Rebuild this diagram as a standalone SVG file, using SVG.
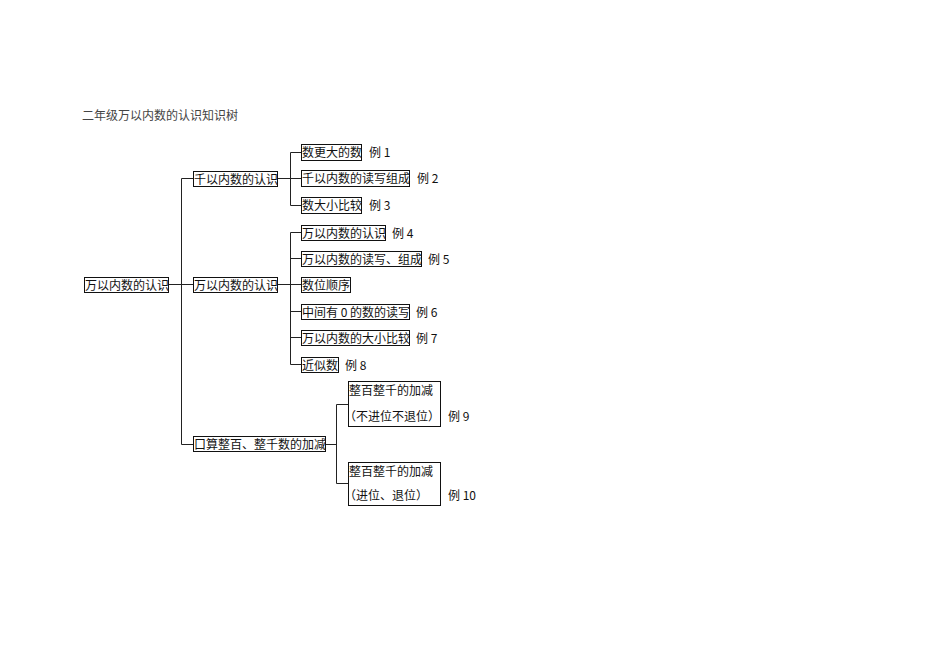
<svg xmlns="http://www.w3.org/2000/svg" width="950" height="672" viewBox="0 0 950 672">
<style>
  text { font-family: "Noto Sans CJK SC", "Liberation Sans", sans-serif; font-size: 12px; fill: #111; }
  .title { fill: #444; }
  .box { fill: #fff; stroke: #111; stroke-width: 1; }
  .conn { fill: none; stroke: #222; stroke-width: 1; }
</style>
<rect x="0" y="0" width="950" height="672" fill="#fff"/>
<text class="title" x="82" y="120">二年级万以内数的认识知识树</text>

<g id="connectors">
  <path class="conn" d="M168 284.5 H193.5"/>
  <path class="conn" d="M181.5 178.5 V444.5"/>
  <path class="conn" d="M181.5 178.5 H193.5 M181.5 444.5 H193.5"/>
  <path class="conn" d="M277 178.5 H301.5"/>
  <path class="conn" d="M290.5 152.5 V205.5 M290.5 152.5 H301.5 M290.5 205.5 H301.5"/>
  <path class="conn" d="M277 284.5 H301.5"/>
  <path class="conn" d="M290.5 232.5 V364.5 M290.5 232.5 H301.5 M290.5 258.5 H301.5 M290.5 311.5 H301.5 M290.5 337.5 H301.5 M290.5 364.5 H301.5"/>
  <path class="conn" d="M325 444.5 H336.5 M336.5 404.5 V483.5 M336.5 404.5 H348.5 M336.5 483.5 H348.5"/>
</g>

<g id="root">
  <rect class="box" x="84.5" y="277.5" width="84" height="15"/>
  <text x="85" y="289.5">万以内数的认识</text>
</g>

<g id="n-qian">
  <rect class="box" x="193.5" y="171.5" width="84" height="15"/>
  <text x="194" y="183.5">千以内数的认识</text>
</g>
<g id="n-wan">
  <rect class="box" x="193.5" y="277.5" width="84" height="15"/>
  <text x="194" y="289.5">万以内数的认识</text>
</g>
<g id="n-kousuan">
  <rect class="box" x="193.5" y="436.5" width="132" height="15"/>
  <text x="194" y="448.5">口算整百、整千数的加减</text>
</g>

<g id="n1">
  <rect class="box" x="301.5" y="144.5" width="60" height="16"/>
  <text x="302" y="157">数更大的数</text>
  <text x="369" y="157">例 1</text>
</g>
<g id="n2">
  <rect class="box" x="301.5" y="170.5" width="108" height="16"/>
  <text x="302" y="183">千以内数的读写组成</text>
  <text x="417" y="183">例 2</text>
</g>
<g id="n3">
  <rect class="box" x="301.5" y="197.5" width="60" height="16"/>
  <text x="302" y="210">数大小比较</text>
  <text x="369" y="210">例 3</text>
</g>

<g id="n4">
  <rect class="box" x="301.5" y="225.5" width="84" height="15"/>
  <text x="302" y="237.5">万以内数的认识</text>
  <text x="392" y="237.5">例 4</text>
</g>
<g id="n5">
  <rect class="box" x="301.5" y="251.5" width="120" height="15"/>
  <text x="302" y="263.5">万以内数的读写、组成</text>
  <text x="428" y="263.5">例 5</text>
</g>
<g id="n-shuwei">
  <rect class="box" x="301.5" y="277.5" width="49" height="15"/>
  <text x="302" y="289.5">数位顺序</text>
</g>
<g id="n6">
  <rect class="box" x="301.5" y="304.5" width="108" height="15"/>
  <text x="302" y="316.5">中间有 0 的数的读写</text>
  <text x="416" y="316.5">例 6</text>
</g>
<g id="n7">
  <rect class="box" x="301.5" y="330.5" width="108" height="15"/>
  <text x="302" y="342.5">万以内数的大小比较</text>
  <text x="416" y="342.5">例 7</text>
</g>
<g id="n8">
  <rect class="box" x="301.5" y="357.5" width="37" height="15"/>
  <text x="302" y="369.5">近似数</text>
  <text x="345" y="369.5">例 8</text>
</g>

<g id="n9">
  <rect class="box" x="348.5" y="381.5" width="92" height="45"/>
  <text x="349" y="395">整百整千的加减</text>
  <text x="344" y="421">（不进位不退位）</text>
  <text x="448" y="421">例 9</text>
</g>
<g id="n10">
  <rect class="box" x="348.5" y="462.5" width="92" height="43"/>
  <text x="349" y="476">整百整千的加减</text>
  <text x="344" y="500">（进位、退位）</text>
  <text x="448" y="500">例 10</text>
</g>
</svg>
